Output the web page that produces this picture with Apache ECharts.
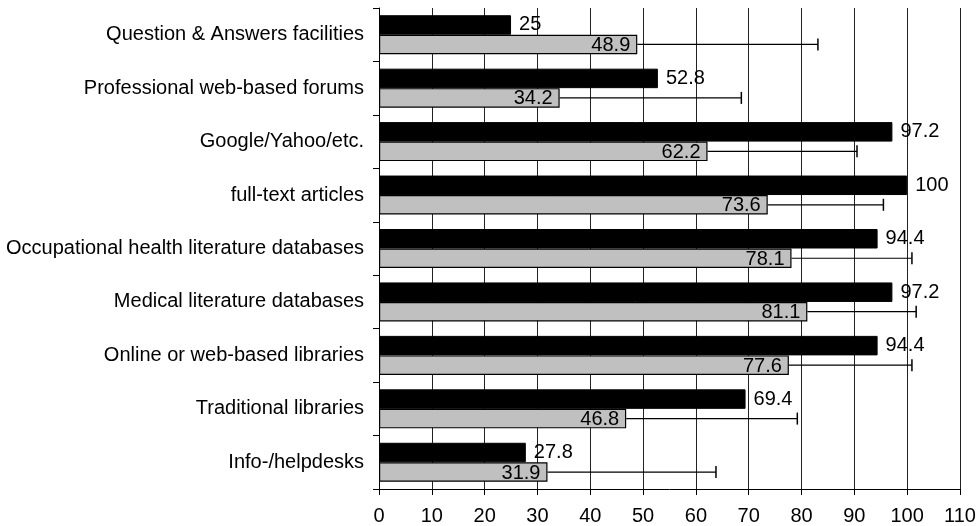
<!DOCTYPE html>
<html>
<head>
<meta charset="utf-8">
<script src="https://cdn.jsdelivr.net/npm/echarts@6/dist/echarts.min.js"></script>
<style>html,body{margin:0;padding:0;background:#fff}#c{width:979px;height:526px}</style>
</head>
<body>
<div id="c"></div>
<script>
var categories = [
  "Question & Answers facilities",
  "Professional web-based forums",
  "Google/Yahoo/etc.",
  "full-text articles",
  "Occupational health literature databases",
  "Medical literature databases",
  "Online or web-based libraries",
  "Traditional libraries",
  "Info-/helpdesks"
];
var blackValues = [25, 52.8, 97.2, 100, 94.4, 97.2, 94.4, 69.4, 27.8];
var grayValues = [48.9, 34.2, 62.2, 73.6, 78.1, 81.1, 77.6, 46.8, 31.9];
var grayUpper = [83.1, 68.6, 90.5, 95.5, 100.9, 101.7, 100.9, 79.2, 63.8];
var xTicks = [0, 10, 20, 30, 40, 50, 60, 70, 80, 90, 100, 110];

var BAR_W = 19.5;
var FONT = "'Liberation Sans', Arial, sans-serif";
var FS = 20;

var errData = categories.map(function (c, i) { return [i, grayValues[i], grayUpper[i]]; });

var chart = echarts.init(document.getElementById('c'));
chart.setOption({
  animation: false,
  grid: { left: 379, right: 19, top: 8, bottom: 37, containLabel: false },
  xAxis: {
    type: 'value', min: xTicks[0], max: xTicks[xTicks.length - 1], interval: 10,
    axisLine: { show: true, lineStyle: { color: '#000', width: 1 } },
    axisTick: { show: true, length: 6, lineStyle: { color: '#000' } },
    axisLabel: { color: '#000', fontSize: FS, fontFamily: FONT, margin: 17 },
    splitLine: { show: true, lineStyle: { color: '#222', width: 1 } }
  },
  yAxis: {
    type: 'category', data: categories, inverse: true,
    axisLine: { show: true, lineStyle: { color: '#000', width: 1 } },
    axisTick: { show: true, length: 6, inside: false, lineStyle: { color: '#000' } },
    axisLabel: { color: '#000', fontSize: FS, fontFamily: FONT, margin: 15 },
    splitLine: { show: false }
  },
  series: [
    {
      type: 'bar', data: blackValues, barWidth: BAR_W, barGap: '0%',
      itemStyle: { color: '#000', borderColor: '#000', borderWidth: 1 },
      label: { show: true, position: 'right', distance: 8, color: '#000', fontSize: FS, fontFamily: FONT }
    },
    {
      type: 'bar', data: grayValues, barWidth: BAR_W, barGap: '0%',
      itemStyle: { color: '#c0c0c0', borderColor: '#000', borderWidth: 1.2 },
      label: { show: true, position: 'insideRight', distance: 7, color: '#000', fontSize: FS, fontFamily: FONT, offset: [0, 1] }
    },
    {
      type: 'custom', data: errData, encode: { x: [1, 2], y: 0 }, z: 5,
      renderItem: function (params, api) {
        var cat = api.value(0);
        var p0 = api.coord([api.value(1), cat]);
        var p1 = api.coord([api.value(2), cat]);
        var y = p0[1] + BAR_W / 2;
        var cap = 6;
        return {
          type: 'group',
          children: [
            { type: 'line', shape: { x1: p0[0], y1: y, x2: p1[0], y2: y }, style: { stroke: '#000', lineWidth: 1.2 } },
            { type: 'line', shape: { x1: p1[0], y1: y - cap, x2: p1[0], y2: y + cap }, style: { stroke: '#000', lineWidth: 1.5 } }
          ]
        };
      }
    }
  ]
});
</script>
</body>
</html>
